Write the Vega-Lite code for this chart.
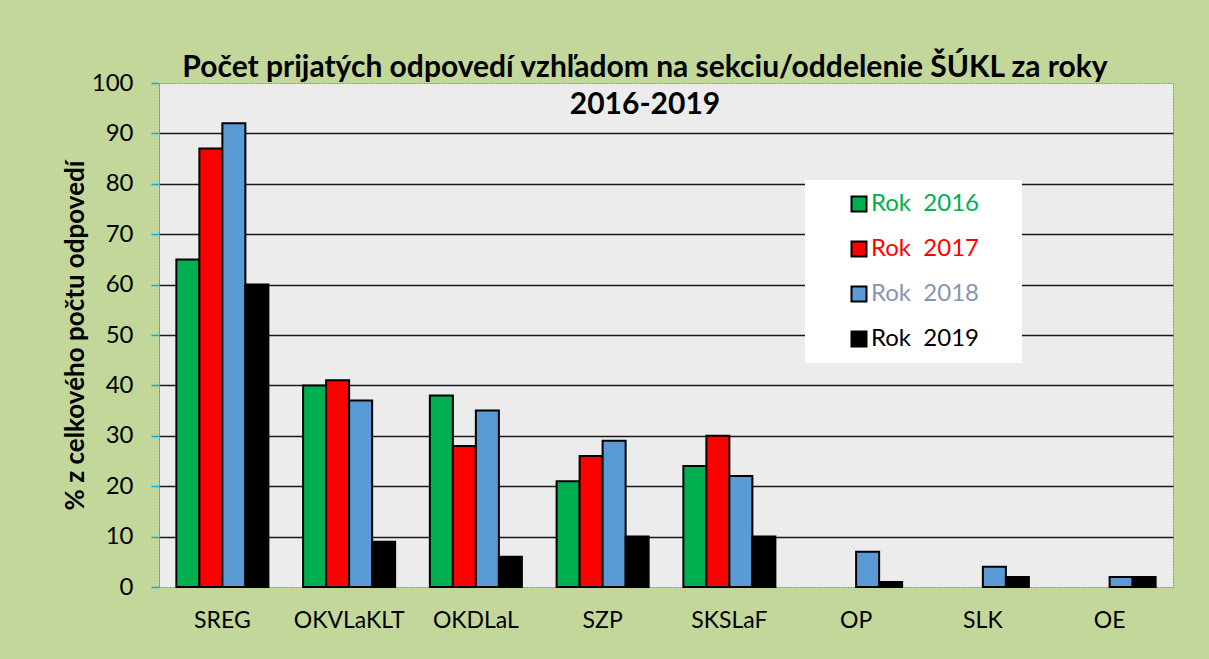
{
  "$schema": "https://vega.github.io/schema/vega-lite/v6.json",
  "width": 1014,
  "height": 504,
  "autosize": {"type": "none"},
  "padding": {"left": 159, "top": 83, "right": 36, "bottom": 72},
  "background": "#c4d79b",
  "title": {
    "text": ["Počet prijatých odpovedí vzhľadom na sekciu/oddelenie ŠÚKL za roky", "2016-2019"],
    "font": "Lato",
    "fontSize": 30,
    "fontWeight": "bold",
    "color": "black",
    "anchor": "middle",
    "dx": -21,
    "offset": -49,
    "lineHeight": 37
  },
  "data": {
    "values": [
      {"sekcia": "SREG", "rok": "2016", "hodnota": 65},
      {"sekcia": "SREG", "rok": "2017", "hodnota": 87},
      {"sekcia": "SREG", "rok": "2018", "hodnota": 92},
      {"sekcia": "SREG", "rok": "2019", "hodnota": 60},
      {"sekcia": "OKVLaKLT", "rok": "2016", "hodnota": 40},
      {"sekcia": "OKVLaKLT", "rok": "2017", "hodnota": 41},
      {"sekcia": "OKVLaKLT", "rok": "2018", "hodnota": 37},
      {"sekcia": "OKVLaKLT", "rok": "2019", "hodnota": 9},
      {"sekcia": "OKDLaL", "rok": "2016", "hodnota": 38},
      {"sekcia": "OKDLaL", "rok": "2017", "hodnota": 28},
      {"sekcia": "OKDLaL", "rok": "2018", "hodnota": 35},
      {"sekcia": "OKDLaL", "rok": "2019", "hodnota": 6},
      {"sekcia": "SZP", "rok": "2016", "hodnota": 21},
      {"sekcia": "SZP", "rok": "2017", "hodnota": 26},
      {"sekcia": "SZP", "rok": "2018", "hodnota": 29},
      {"sekcia": "SZP", "rok": "2019", "hodnota": 10},
      {"sekcia": "SKSLaF", "rok": "2016", "hodnota": 24},
      {"sekcia": "SKSLaF", "rok": "2017", "hodnota": 30},
      {"sekcia": "SKSLaF", "rok": "2018", "hodnota": 22},
      {"sekcia": "SKSLaF", "rok": "2019", "hodnota": 10},
      {"sekcia": "OP", "rok": "2018", "hodnota": 7},
      {"sekcia": "OP", "rok": "2019", "hodnota": 1},
      {"sekcia": "SLK", "rok": "2018", "hodnota": 4},
      {"sekcia": "SLK", "rok": "2019", "hodnota": 2},
      {"sekcia": "OE", "rok": "2018", "hodnota": 2},
      {"sekcia": "OE", "rok": "2019", "hodnota": 2}
    ]
  },
  "mark": {"type": "bar", "stroke": "black", "strokeWidth": 2},
  "encoding": {
    "x": {
      "field": "sekcia",
      "type": "nominal",
      "sort": ["SREG", "OKVLaKLT", "OKDLaL", "SZP", "SKSLaF", "OP", "SLK", "OE"],
      "scale": {"paddingInner": 0.274, "paddingOuter": 0.137},
      "axis": {
        "title": null,
        "labelAngle": 0,
        "labelFont": "Lato",
        "labelFontSize": 23,
        "labelColor": "black",
        "labelPadding": 22,
        "ticks": false,
        "domain": false
      }
    },
    "xOffset": {"field": "rok", "type": "nominal"},
    "y": {
      "field": "hodnota",
      "type": "quantitative",
      "scale": {"domain": [0, 100], "nice": false},
      "axis": {
        "title": "% z celkového počtu odpovedí",
        "titleFont": "Lato",
        "titleFontSize": 26,
        "titleFontWeight": "bold",
        "titleColor": "black",
        "titlePadding": 3,
        "values": [0, 10, 20, 30, 40, 50, 60, 70, 80, 90, 100],
        "labelFont": "Lato",
        "labelFontSize": 24,
        "labelColor": "black",
        "labelPadding": 18,
        "tickSize": 8,
        "tickColor": "#00b0f0",
        "tickWidth": 1.5,
        "domainColor": "#00b0f0",
        "domainDash": [2, 1],
        "gridColor": "#1a1a1a",
        "gridWidth": 1.5,
        "gridOpacity": {"condition": {"test": "datum.value == 0 || datum.value == 100", "value": 0}, "value": 1}
      }
    },
    "color": {
      "field": "rok",
      "type": "nominal",
      "scale": {"domain": ["2016", "2017", "2018", "2019"], "range": ["#00b050", "#ff0000", "#5b9bd5", "#000000"]},
      "legend": {
        "title": null,
        "orient": "none",
        "legendX": 646,
        "legendY": 97,
        "fillColor": "white",
        "padding": 12,
        "symbolType": "square",
        "symbolSize": 225,
        "symbolStrokeColor": "black",
        "symbolStrokeWidth": 2,
        "symbolOffset": 30,
        "labelOffset": 0,
        "labelFont": "Lato",
        "labelFontSize": 24,
        "labelLimit": 300,
        "rowPadding": 21,
        "labelExpr": "'Rok\u00a0\u00a0' + datum.label + '\u00a0\u00a0\u2800'",
        "encode": {
          "labels": {
            "update": {
              "fill": {"signal": "datum.value == '2016' ? '#00b050' : datum.value == '2017' ? '#ff0000' : datum.value == '2018' ? '#8497b0' : '#000000'"}
            }
          }
        }
      }
    }
  },
  "config": {
    "view": {"fill": "#ececec", "stroke": "#5b9bd5", "strokeDash": [2, 1], "strokeWidth": 1}
  }
}
